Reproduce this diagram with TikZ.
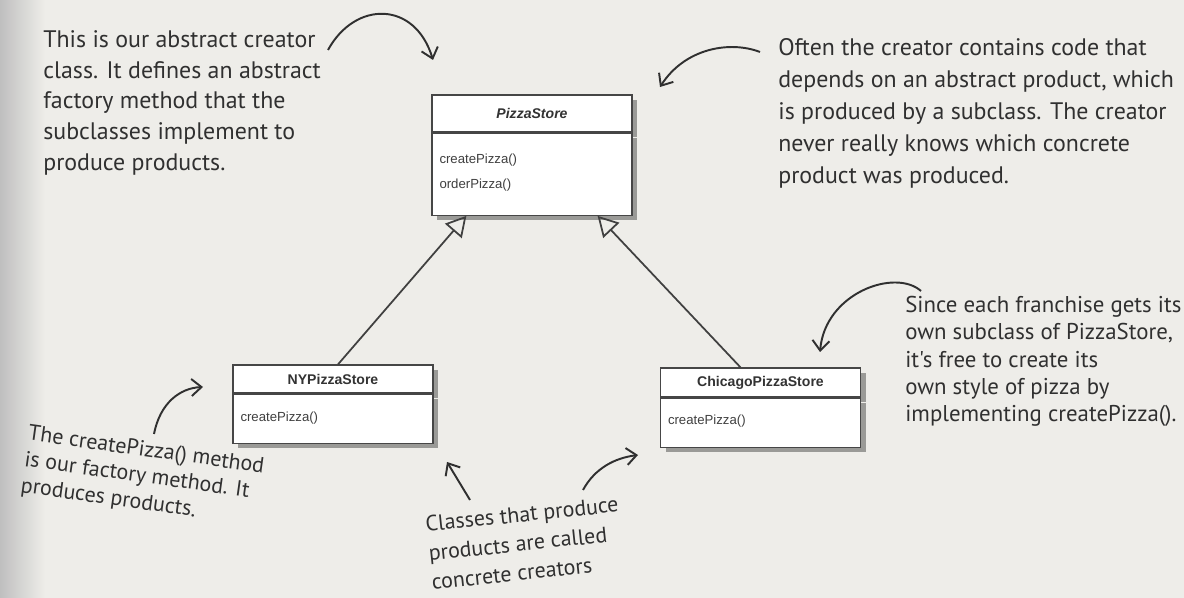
\documentclass[tikz,border=0pt]{standalone}
\usepackage{fontspec}
\setmainfont{Liberation Sans}
\newfontfamily\handfont{PT Sans}
\usetikzlibrary{arrows.meta,positioning,shadows}
\definecolor{pagegrey}{RGB}{238,237,233}
\definecolor{inkgrey}{RGB}{48,48,48}
\definecolor{boxline}{RGB}{70,70,70}
\tikzset{
  classhead/.style={draw=boxline,fill=white,line width=0.7pt,
    minimum width=40mm,inner sep=0pt,
    font=\fontsize{8}{10}\selectfont\bfseries,text=black!80,
    drop shadow={shadow xshift=1mm,shadow yshift=-1mm,fill=black,opacity=.35}},
  classbody/.style={draw=boxline,fill=white,line width=0.7pt,
    text width=37mm,inner xsep=1.5mm,inner ysep=0pt,align=left,
    font=\fontsize{7.5}{14.5}\selectfont,text=black!75,
    drop shadow={shadow xshift=1mm,shadow yshift=-1mm,fill=black,opacity=.35}},
  inherit/.style={-{Triangle[open,length=4mm,width=4.4mm]},
    line width=1pt,draw=black!75},
  note/.style={font=\handfont\fontsize{13.6}{17.5}\selectfont,align=left,
    inner sep=0pt,text=inkgrey},
  notearrow/.style={-{Straight Barb[length=2mm,width=3.4mm]},
    line width=1.1pt,draw=inkgrey}
}
\begin{document}
\begin{tikzpicture}
  \useasboundingbox (0,0) rectangle (23.68,11.96);
  % page
  \fill[pagegrey] (0,0) rectangle (23.68,11.96);
  \shade[left color=black!25,right color=pagegrey] (0,0) rectangle (0.9,11.96);

  % classes
  \node[classhead,minimum height=7.4mm] (pshead) at (10.64,9.69)
    {\itshape PizzaStore};
  \node[classbody,below=0pt of pshead,text height=6mm,text depth=10.4mm]
    (psbody) {createPizza()\\orderPizza()};
  \node[classhead,minimum height=5.6mm] (nyhead) at (6.66,4.38)
    {NYPizzaStore};
  \node[classbody,below=0pt of nyhead,text height=5.4mm,text depth=4.4mm]
    (nybody) {createPizza()};
  \node[classhead,minimum height=5.8mm] (chihead) at (15.21,4.31)
    {ChicagoPizzaStore};
  \node[classbody,below=0pt of chihead,text height=5.2mm,text depth=4.6mm]
    (chibody) {createPizza()};

  \draw[inherit] ([xshift=1mm]nyhead.north) -- ([xshift=7mm]psbody.south west);
  \draw[inherit] ([xshift=-4mm]chihead.north) -- ([xshift=-7mm]psbody.south east);

  % notes
  \node[note,anchor=north west] (creatornote) at (0.86,11.36)
    {This is our abstract creator\\class. It defines an abstract\\factory method that the\\subclasses implement to\\produce products.};
  \node[note,anchor=north west,font=\handfont\fontsize{13.6}{18.3}\selectfont]
    (productnote) at (15.56,11.2)
    {Often the creator contains code that\\depends on an abstract product, which\\is produced by a subclass. The creator\\never really knows which concrete\\product was produced.};
  \node[note,anchor=north west,font=\handfont\fontsize{13}{15.5}\selectfont]
    (franchisenote) at (18.1,6.04)
    {Since each franchise gets its\\own subclass of PizzaStore,\\it's free to create its\\own style of pizza by\\implementing createPizza().};
  \node[note,rotate=-8,font=\handfont\fontsize{12.5}{15}\selectfont]
    (factorynote) at (2.85,2.42)
    {The createPizza() method\\is our factory method. It\\produces products.};
  \node[note,rotate=6,font=\handfont\fontsize{12.5}{16.5}\selectfont]
    (concretenote) at (10.5,1.1)
    {Classes that produce\\products are called\\concrete creators};

  % hand arrows
  \coordinate (a1s) at (6.56,10.96);
  \coordinate (a1e) at (8.66,10.76);
  \coordinate (a2s) at (15.2,10.92);
  \coordinate (a2e) at (13.2,10.22);
  \coordinate (a3s) at (18.42,6.14);
  \coordinate (a3e) at (16.4,4.92);
  \coordinate (a4s) at (3.08,3.28);
  \coordinate (a4e) at (4.06,4.22);
  \coordinate (a5s) at (9.4,1.96);
  \coordinate (a5e) at (8.94,2.72);
  \coordinate (a6s) at (11.66,2.16);
  \coordinate (a6e) at (12.76,2.86);
  \draw[notearrow] (a1s) .. controls (7.1,11.95) and (8.3,11.95) .. (a1e);
  \draw[notearrow] (a2s) .. controls (14.6,11.15) and (13.7,11.0) .. (a2e);
  \draw[notearrow] (a3s) .. controls (17.9,6.6) and (16.5,6.1) .. (a3e);
  \draw[notearrow] (a4s) .. controls (3.2,3.9) and (3.6,4.2) .. (a4e);
  \draw[notearrow] (a5s) -- (a5e);
  \draw[notearrow] (a6s) .. controls (11.9,2.6) and (12.3,2.8) .. (a6e);
\end{tikzpicture}
\end{document}
